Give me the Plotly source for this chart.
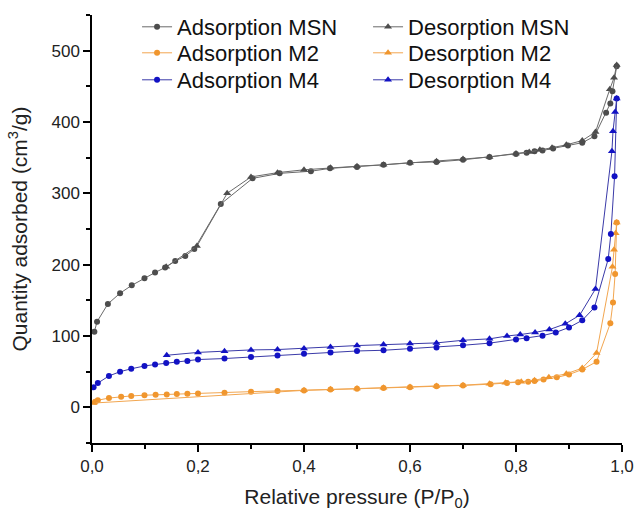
import plotly.graph_objects as go

# ---- data ----
ads_msn_x = [0.0045, 0.0095, 0.03, 0.053, 0.075, 0.099, 0.119, 0.138, 0.157, 0.176, 0.193, 0.243, 0.303, 0.354,
             0.413, 0.449, 0.50, 0.55, 0.60, 0.65, 0.70, 0.75, 0.80, 0.82, 0.835, 0.85, 0.87, 0.898, 0.925, 0.948,
             0.97, 0.978, 0.982, 0.99]
ads_msn_y = [106, 120, 145, 160, 171, 181, 189, 196, 205, 212, 222, 285, 321, 328,
             331, 335, 337, 340, 343, 344, 347, 351, 355, 357, 359, 360, 363, 367, 371, 380,
             413, 426, 443, 478]
des_msn_x = [0.99, 0.985, 0.977, 0.95, 0.925, 0.895, 0.868, 0.845, 0.825, 0.80, 0.75, 0.70, 0.65, 0.60, 0.55,
             0.50, 0.45, 0.40, 0.35, 0.30, 0.255, 0.198, 0.14]
des_msn_y = [480, 462, 446, 386, 374, 368, 364, 361, 358, 356, 351, 348, 345, 343, 340,
             338, 336, 333, 329, 323, 300, 226, 197]

ads_m2_x = [0.006, 0.011, 0.032, 0.055, 0.074, 0.099, 0.12, 0.141, 0.16, 0.18, 0.20, 0.25, 0.30, 0.35, 0.40,
            0.45, 0.50, 0.55, 0.60, 0.65, 0.70, 0.752, 0.783, 0.804, 0.823, 0.835, 0.852, 0.877, 0.90, 0.925,
            0.952, 0.978, 0.983, 0.987, 0.99]
ads_m2_y = [8, 10, 13, 15, 16, 17, 17.6, 18, 18.6, 19, 19.5, 20.4, 22, 23, 23.5,
            25, 26, 27, 28.3, 29.7, 30.7, 32.5, 34, 35, 36, 37, 39, 42, 46, 53,
            64, 118, 147, 187, 259]
des_m2_x = [0.99, 0.988, 0.985, 0.982, 0.952, 0.925, 0.895, 0.862, 0.835, 0.81, 0.78, 0.75, 0.70, 0.65, 0.60,
            0.55, 0.50, 0.45, 0.40, 0.003]
des_m2_y = [259, 244, 221, 197, 76, 55, 47, 42, 38, 36, 34.5, 33, 31, 30, 28.6,
            27.3, 26.3, 25.2, 23.8, 6]

ads_m4_x = [0.003, 0.011, 0.032, 0.053, 0.074, 0.099, 0.119, 0.14, 0.16, 0.18, 0.20, 0.25, 0.30, 0.35, 0.40,
            0.45, 0.50, 0.55, 0.60, 0.65, 0.70, 0.75, 0.80, 0.82, 0.85, 0.875, 0.90, 0.925, 0.948, 0.974,
            0.979, 0.986, 0.99]
ads_m4_y = [28, 34, 44, 50, 54, 58, 60, 62, 64, 65, 67, 68.4, 70.7, 72.6, 75,
            77, 79, 80, 82, 84, 87, 90, 95, 97, 100.5, 105, 112, 122, 140, 208,
            243, 324, 433]
des_m4_x = [0.99, 0.987, 0.983, 0.981, 0.95, 0.92, 0.893, 0.863, 0.836, 0.808, 0.783, 0.75, 0.70, 0.65, 0.60,
            0.55, 0.50, 0.45, 0.40, 0.35, 0.30, 0.25, 0.20, 0.141]
des_m4_y = [433, 414, 387, 359, 166, 129, 117, 109, 105, 102, 100, 96, 94, 90.3, 89.4,
            88, 86.6, 84.7, 82.4, 81, 80.5, 78.6, 77, 73]

x_ticks = [0.0, 0.2, 0.4, 0.6, 0.8, 1.0]
y_ticks = [0, 100, 200, 300, 400, 500]

GRAY = "#4d4d4d"
ORANGE = "#f0962e"
BLUE = "#1212c4"
FONT = "Liberation Sans, Arial"

fig = go.Figure()

def add(x, y, name, color, symbol, lcolor, legend):
    fig.add_trace(go.Scatter(
        x=x, y=y, name=name, mode="lines+markers", legend=legend,
        line=dict(color=lcolor, width=1),
        marker=dict(color=color, symbol=symbol, size=6 if symbol == "circle" else 7),
    ))

add(ads_msn_x, ads_msn_y, "Adsorption MSN", GRAY, "circle", "#6a6a6a", "legend")
add(des_msn_x, des_msn_y, "Desorption MSN", GRAY, "triangle-up", "#6a6a6a", "legend")
add(ads_m2_x, ads_m2_y, "Adsorption M2", ORANGE, "circle", "#f2a650", "legend2")
add(des_m2_x, des_m2_y, "Desorption M2", ORANGE, "triangle-up", "#f2a650", "legend2")
add(ads_m4_x, ads_m4_y, "Adsorption M4", BLUE, "circle", "#3a3aa8", "legend3")
add(des_m4_x, des_m4_y, "Desorption M4", BLUE, "triangle-up", "#3a3aa8", "legend3")

axis_common = dict(
    showline=True, linecolor="black", linewidth=1.5, mirror=False,
    ticks="outside", ticklen=7, tickwidth=1.5, tickcolor="black",
    showgrid=False, zeroline=False,
    tickfont=dict(family=FONT, size=17, color="#222"),
)

H = 511
def legend_row(center_px):
    return dict(
        orientation="h", x=0.085, y=1 - center_px / H, xanchor="left", yanchor="middle",
        yref="container",
        entrywidth=186, entrywidthmode="pixels",
        font=dict(family=FONT, size=22, color="#111"),
        bgcolor="rgba(0,0,0,0)", tracegroupgap=0,
    )

fig.update_layout(
    width=635, height=H,
    margin=dict(l=92, r=13, t=15, b=68, autoexpand=False),
    plot_bgcolor="white", paper_bgcolor="white",
    separators=",.",
    showlegend=True,
    legend=legend_row(27),
    legend2=legend_row(53),
    legend3=legend_row(80),
    xaxis=dict(
        range=[0, 1.0], tickvals=x_ticks, tickformat=".1f",
        minor=dict(ticks="outside", ticklen=4, tickwidth=1.5, tickcolor="black", dtick=0.1, tick0=0),
        title=dict(text="Relative pressure (P/P<sub>0</sub>)", font=dict(family=FONT, size=21, color="#222"), standoff=14),
        **axis_common,
    ),
    yaxis=dict(
        range=[-50, 550], tickvals=y_ticks,
        minor=dict(ticks="outside", ticklen=4, tickwidth=1.5, tickcolor="black", dtick=50, tick0=0),
        title=dict(text="Quantity adsorbed (cm<sup>3</sup>/g)", font=dict(family=FONT, size=21, color="#222"), standoff=18),
        **axis_common,
    ),
)

fig.write_html("out.html")
